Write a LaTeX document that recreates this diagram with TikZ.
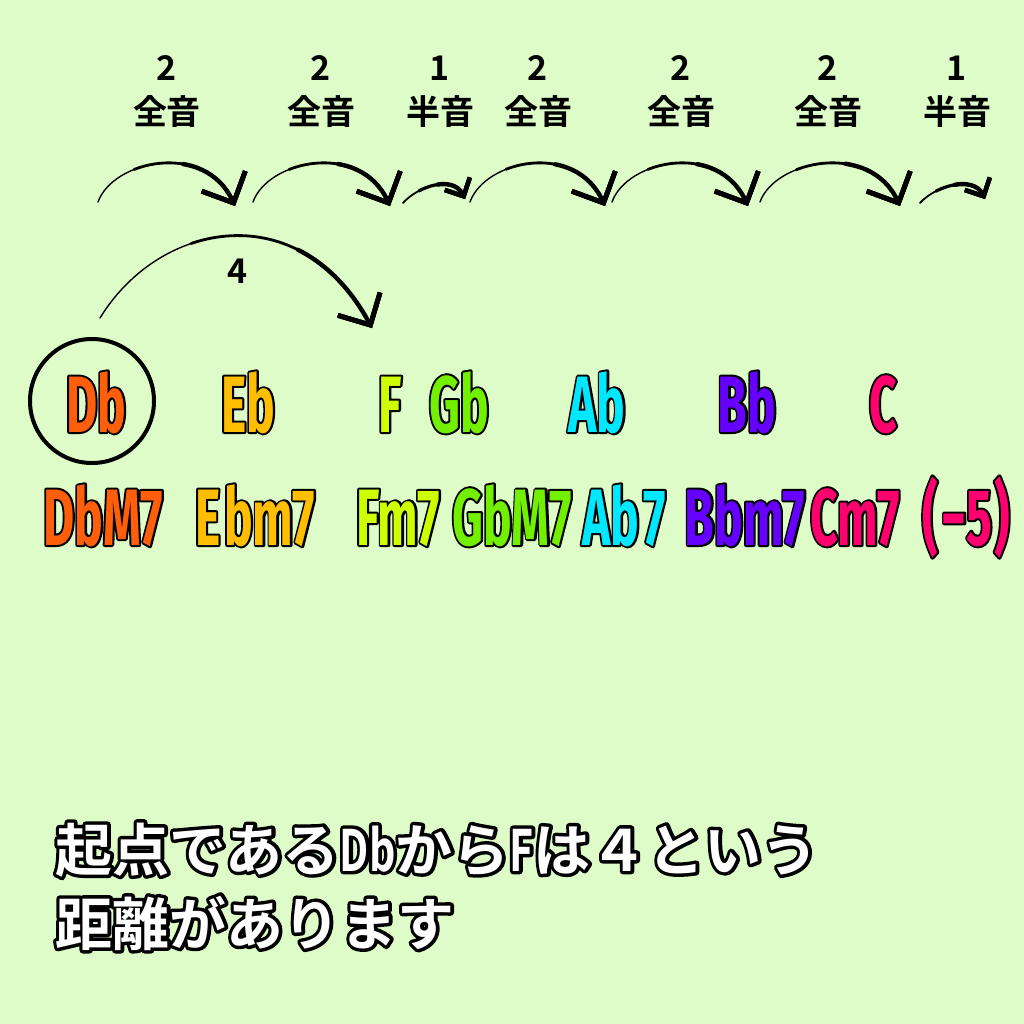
\documentclass[tikz,border=0pt]{standalone}
\usepackage{fontspec}
\usetikzlibrary{arrows.meta}
\newfontfamily\chordfont[FakeStretch=0.6]{Fira Sans Bold}
\newfontfamily\chordline[FakeStretch=0.6,FakeBold=5]{Fira Sans Bold}
\newfontfamily\jpfont{Noto Sans CJK JP Bold}
\newfontfamily\msgfont{Noto Sans CJK JP Bold}
\newfontfamily\msgline[FakeBold=12]{Noto Sans CJK JP Bold}
\newfontfamily\msglat[FakeStretch=0.72]{Noto Sans CJK JP Bold}
\newfontfamily\msglatline[FakeStretch=0.72,FakeBold=12]{Noto Sans CJK JP Bold}
\let\lat\msglat
\definecolor{bgcol}{RGB}{221,252,200}
\definecolor{cDb}{RGB}{255,95,10}
\definecolor{cEb}{RGB}{255,190,0}
\definecolor{cF}{RGB}{205,255,0}
\definecolor{cGb}{RGB}{115,240,0}
\definecolor{cAb}{RGB}{0,232,255}
\definecolor{cBb}{RGB}{102,0,255}
\definecolor{cC}{RGB}{255,0,110}
% #1 outline font, #2 fill colour, #3 text
\newcommand{\outl}[3]{\makebox[0pt][l]{\special{pdf:code 1 j}#1\textcolor{black}{#3}}\textcolor{#2}{#3}}

\begin{document}
\begin{tikzpicture}[x=0.5pt,y=-0.5pt,
  note/.style={font=\chordfont\fontsize{40}{40}\selectfont, anchor=base, inner sep=0pt},
  num/.style={font=\jpfont\fontsize{17}{17}\selectfont, inner sep=0pt},
  ivl/.style={font=\jpfont\fontsize{17}{17}\selectfont, inner sep=0pt},
  hop/.style={line cap=round, dash pattern=on 900pt off #1, dash phase=900pt,
    -{Straight Barb[length=12pt,width=24pt,line width=2.4pt]}},
  shop/.style={line cap=round, dash pattern=on 900pt off #1, dash phase=900pt,
    -{Straight Barb[length=7pt,width=14pt,line width=2.2pt]}},
  msg/.style={font=\msgfont\fontsize{28.5}{28.5}\selectfont, anchor=base west, inner sep=0pt}]

  \fill[bgcol] (0,0) rectangle (1024,1024);
  \useasboundingbox (0,0) rectangle (1024,1024);

  % interval labels
  \foreach \x/\n/\t [count=\i] in {167/2/全音, 321/2/全音, 440/1/半音, 538/2/全音, 681/2/全音, 828/2/全音, 957/1/半音}{
    \node[num] (n\i) at (\x,68) {\n}; %
    \node[ivl] (iv\i) at (\x,112) {\t}; %
  }

  % whole steps (thin to thick)
  \foreach \s/\e [count=\i] in {98/235, 253/390, 470/605, 612/748, 760/900}{
    \coordinate (ws\i) at (\s,202); %
    \coordinate (we\i) at (\e,206); %
    \foreach \w/\o in {0.7/0, 1.4/25, 2.2/50}
      \draw[hop=\o pt, line width=\w pt] (ws\i) .. controls +(15,-42) and +(-30,-65) .. (we\i); %
  }
  % half steps
  \foreach \s/\e [count=\i] in {403/465, 920/985}{
    \coordinate (hs\i) at (\s,203); %
    \coordinate (he\i) at (\e,199); %
    \foreach \w/\o in {0.9/0, 1.6/10, 2.2/20}
      \draw[shop=\o pt, line width=\w pt] (hs\i) .. controls +(15,-17) and +(-12,-24) .. (he\i); %
  }

  % Db -> F
  \coordinate (fs) at (100,318);
  \coordinate (fe) at (372,328);
  \foreach \w/\o in {0.7/0, 1.4/60, 2.2/115}
    \draw[hop=\o pt, line width=\w pt] (fs) .. controls +(60,-98) and +(-72,-133) .. (fe);
  \node[num] (four) at (238,271) {4};

  % notes
  \foreach \x/\t/\col [count=\i] in {96/Db/cDb, 248/Eb/cEb, 390/F/cF, 459/Gb/cGb, 597/Ab/cAb, 747/Bb/cBb, 883/C/cC}{
    \node[note] (nt\i) at (\x,432) {\outl{\chordline}{\col}{\t}}; %
  }
  \node[draw, circle, line width=2pt, minimum size=62pt, inner sep=0pt] (ring) at (92,401) {};

  % chords
  \foreach \x/\t/\col [count=\i] in {103/DbM7/cDb, 255/E\kern2pt bm7/cEb, 398/Fm7/cF, 512/GbM7/cGb, 624/Ab\kern2pt 7/cAb, 745/Bbm7/cBb, 855/Cm7/cC, 966/(\kern2pt−5\kern1pt)/cC}{
    \node[note] (ch\i) at (\x,545) {\outl{\chordline}{\col}{\t}}; %
  }

  \node[msg] (l1) at (55,871) {\outl{\msgline\let\lat\msglatline}{white}{起点である{\lat Db}から{\lat F}は４という}};
  \node[msg] (l2) at (55,945) {\outl{\msgline}{white}{距離があります}};
\end{tikzpicture}
\end{document}
